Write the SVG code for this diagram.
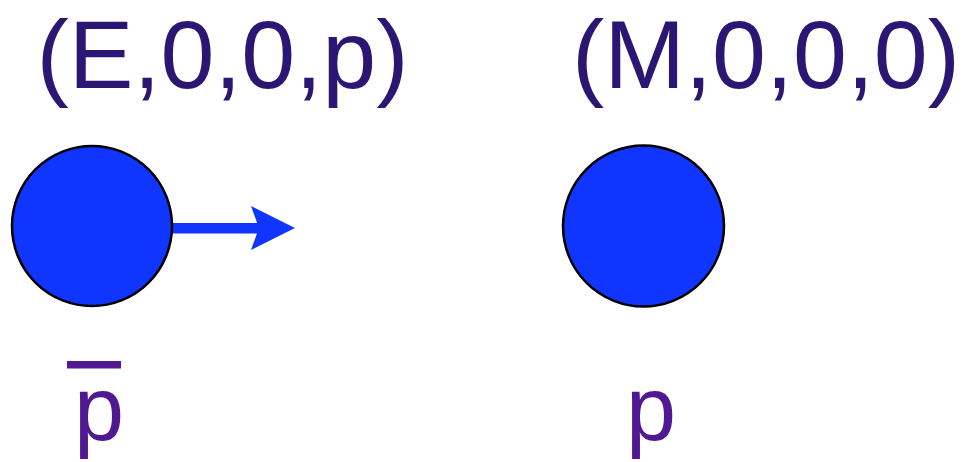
<svg xmlns="http://www.w3.org/2000/svg" width="971" height="462" viewBox="0 0 971 462">
<style>
.title{font-family:"Liberation Sans",Arial,sans-serif;font-size:97px;fill:#2C1673}
.lbl{font-family:"Liberation Sans",Arial,sans-serif;font-size:90px;fill:#4F1A91}
.ball{fill:#0F35FF;stroke:#000;stroke-width:2.5}
.arrow{fill:#0F35FF}
</style>
<rect width="971" height="462" fill="#fff"/>
<g id="title-left"><text class="title" x="36.5" y="88">(E,0,0,p)</text></g>
<g id="title-right"><text class="title" x="572" y="88">(M,0,0,0)</text></g>
<g id="connectors">
<rect class="arrow" x="171" y="223" width="90" height="10.5"/>
<path class="arrow" d="M295,228 L251,206 L259,228 L251,250 Z"/>
</g>
<g id="antiproton"><circle class="ball" cx="92" cy="226" r="80"/></g>
<g id="proton"><circle class="ball" cx="643.5" cy="226" r="80.5"/></g>
<g id="label-pbar"><rect x="67" y="361" width="54" height="7.5" fill="#4F1A91"/><text class="lbl" x="74" y="440">p</text></g>
<g id="label-p"><text class="lbl" x="626" y="440">p</text></g>
</svg>
